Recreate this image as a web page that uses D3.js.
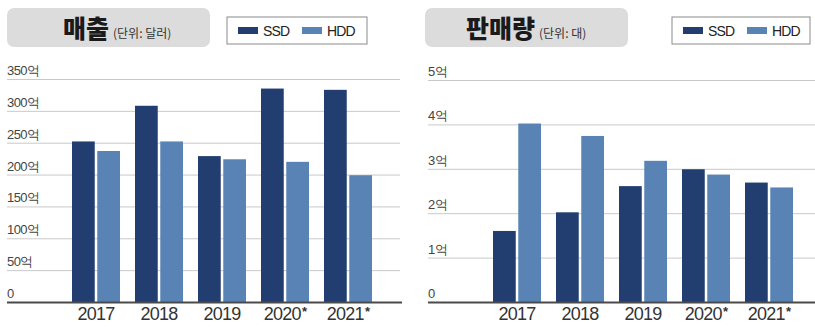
<!DOCTYPE html>
<html>
<head>
<meta charset="utf-8">
<script src="https://cdn.jsdelivr.net/npm/d3@7"></script>
<style>
  html, body { margin: 0; padding: 0; background: #fff; }
  svg { display: block; }
</style>
</head>
<body>
<svg id="chart" width="815" height="327"></svg>
<script>
// Annual figures for SSD vs HDD
const years = ["2017", "2018", "2019", "2020", "2021"];
const yearMarks = ["", "", "", "*", "*"];
const seriesNames = ["SSD", "HDD"];

// Revenue (unit: 억 dollars)
const revenueSSD = [252, 308, 229, 335, 333];
const revenueHDD = [237, 252, 224, 220, 199];
const revenueTicks = [0, 50, 100, 150, 200, 250, 300, 350];

// Shipments (unit: 억 units)
const unitsSSD = [1.6, 2.02, 2.61, 2.99, 2.69];
const unitsHDD = [4.02, 3.74, 3.18, 2.87, 2.58];
const unitsTicks = [0, 1, 2, 3, 4, 5];

const colors = { SSD: "#223e71", HDD: "#5a83b5" };
const narrow = "'Liberation Sans Narrow', 'Arial Narrow', 'Liberation Sans', Arial, sans-serif";
const kr = "'Noto Sans CJK KR', 'Noto Sans', sans-serif";

const svg = d3.select("#chart");

function panel(cfg) {
  const g = svg.append("g");
  const ssd = cfg.ssd, hdd = cfg.hdd;
  const rows = years.map((y, i) => ({ year: y, mark: yearMarks[i], SSD: ssd[i], HDD: hdd[i] }));

  const y = d3.scaleLinear().domain([0, cfg.max]).range([302, cfg.top]);
  const x0 = d3.scaleBand().domain(years).range(cfg.xRange).paddingInner(0.238).paddingOuter(0.119);
  const x1 = d3.scaleBand().domain(seriesNames).range([0, x0.bandwidth()]).paddingInner(0.1);

  // title pill
  g.append("rect")
    .attr("x", cfg.titleBox[0]).attr("y", 8)
    .attr("width", cfg.titleBox[1]).attr("height", 39)
    .attr("rx", 7).attr("fill", "#dcdcdc");
  const t = g.append("text")
    .attr("x", cfg.titleX).attr("y", 38)
    .attr("font-family", kr).attr("fill", "#1a1a1a");
  t.append("tspan").attr("font-size", 25).attr("font-weight", 900).text(cfg.title);
  t.append("tspan").attr("font-size", 12).attr("dx", 4).attr("fill", "#333").text(cfg.unit);

  // legend box
  const lg = g.append("g").attr("transform", `translate(${cfg.legend[0]},17)`);
  lg.append("rect").attr("width", cfg.legend[1]).attr("height", 27)
    .attr("fill", "#fff").attr("stroke", "#8a8a8a").attr("stroke-width", 1);
  seriesNames.forEach((s, i) => {
    const ox = 11 + i * 64;
    lg.append("rect").attr("x", ox).attr("y", 10).attr("width", 20).attr("height", 7).attr("fill", colors[s]);
    lg.append("text").attr("x", ox + 25).attr("y", 19)
      .attr("font-family", narrow).attr("font-size", 14).attr("fill", "#222")
      .attr("letter-spacing", -0.9).text(s);
  });

  // gridlines and tick labels
  const grid = g.append("g");
  cfg.ticks.forEach(v => {
    if (v !== 0) {
      grid.append("line")
        .attr("x1", cfg.gridX[0]).attr("x2", cfg.gridX[1])
        .attr("y1", y(v) + 0.5).attr("y2", y(v) + 0.5)
        .attr("stroke", "#c9c9c9").attr("stroke-width", 1);
    }
    grid.append("text")
      .attr("x", cfg.gridX[0]).attr("y", y(v) - 4)
      .attr("font-family", narrow).attr("font-size", 13).attr("fill", "#444")
      .attr("letter-spacing", -0.6)
      .text(cfg.fmt(v));
  });

  // bars
  const groups = g.append("g").selectAll("g").data(rows).join("g")
    .attr("transform", d => `translate(${x0(d.year)},0)`);
  groups.selectAll("rect").data(d => seriesNames.map(s => ({ key: s, value: d[s] }))).join("rect")
    .attr("x", d => x1(d.key))
    .attr("y", d => y(d.value))
    .attr("width", x1.bandwidth())
    .attr("height", d => y(0) - y(d.value))
    .attr("fill", d => colors[d.key]);

  // baseline
  g.append("line")
    .attr("x1", cfg.axisX[0]).attr("x2", cfg.axisX[1])
    .attr("y1", 302.5).attr("y2", 302.5)
    .attr("stroke", "#4a4a4a").attr("stroke-width", 2);

  // year labels
  const xl = g.append("g").selectAll("text").data(rows).join("text")
    .attr("x", d => x0(d.year) + x0.bandwidth() / 2)
    .attr("y", 320)
    .attr("text-anchor", "middle")
    .attr("font-family", narrow).attr("font-size", 18).attr("fill", "#333")
    .attr("letter-spacing", -0.7);
  xl.append("tspan").text(d => d.year);
  xl.append("tspan").attr("font-size", 13).attr("font-weight", "bold").attr("dx", 1).attr("dy", -4).text(d => d.mark);
}

panel({
  ssd: revenueSSD, hdd: revenueHDD, ticks: revenueTicks, max: 350, top: 79,
  fmt: v => v === 0 ? "0" : v + "억",
  xRange: [64.5, 379.5], gridX: [7, 400], axisX: [7, 402],
  titleBox: [7, 203], titleX: 63, title: "매출", unit: "(단위: 달러)",
  legend: [227, 140]
});

panel({
  ssd: unitsSSD, hdd: unitsHDD, ticks: unitsTicks, max: 5, top: 80,
  fmt: v => v === 0 ? "0" : v + "억",
  xRange: [485.5, 800.5], gridX: [428, 815], axisX: [428, 815],
  titleBox: [425, 203], titleX: 466, title: "판매량", unit: "(단위: 대)",
  legend: [672, 138]
});
</script>
</body>
</html>
